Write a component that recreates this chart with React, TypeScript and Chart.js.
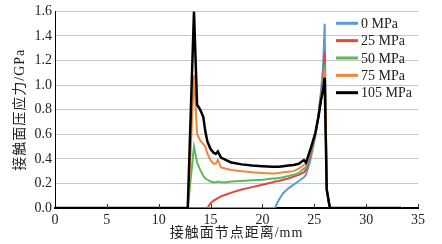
import React, { useEffect, useRef } from "react";
import { Chart, registerables } from "chart.js";

Chart.register(...registerables);

const distance = [0, 12.8, 13.1, 13.4, 13.7, 14.0, 14.3, 14.5, 14.7, 15.0, 15.3, 15.5, 15.7, 16.0, 16.5, 17, 18, 19, 20, 21, 21.2, 21.6, 22, 22.5, 23, 23.5, 24, 24.2, 24.6, 25.1, 25.4, 25.65, 25.85, 26.0, 26.2, 26.5, 33.4];

const p0 = [0, 0, 0, 0, 0, 0, 0, 0, 0, 0, 0, 0, 0, 0, 0, 0, 0, 0, 0, 0, 0, 0.07, 0.12, 0.16, 0.19, 0.22, 0.25, 0.27, 0.38, 0.58, 0.76, 0.95, 1.15, 1.5, 0.15, 0, 0];
const p25 = [0, 0, 0, 0, 0, 0, 0, 0, 0, 0.04, 0.06, 0.07, 0.08, 0.095, 0.11, 0.125, 0.15, 0.17, 0.19, 0.21, 0.215, 0.22, 0.23, 0.24, 0.255, 0.27, 0.29, 0.31, 0.42, 0.6, 0.75, 0.92, 1.05, 1.27, 0.15, 0, 0];
const p50 = [0, 0, 0.25, 0.5, 0.37, 0.31, 0.26, 0.24, 0.23, 0.215, 0.21, 0.21, 0.215, 0.21, 0.21, 0.215, 0.22, 0.225, 0.23, 0.24, 0.24, 0.245, 0.25, 0.26, 0.27, 0.285, 0.32, 0.33, 0.44, 0.6, 0.74, 0.9, 1.0, 1.17, 0.15, 0, 0];
const p75 = [0, 0, 0.5, 1.08, 0.6, 0.55, 0.52, 0.5, 0.44, 0.39, 0.36, 0.36, 0.39, 0.33, 0.32, 0.31, 0.3, 0.29, 0.285, 0.28, 0.28, 0.285, 0.29, 0.295, 0.3, 0.32, 0.35, 0.36, 0.45, 0.6, 0.74, 0.88, 0.98, 1.12, 0.15, 0, 0];
const p105 = [0, 0, 0.8, 1.6, 0.84, 0.8, 0.74, 0.62, 0.54, 0.48, 0.45, 0.44, 0.46, 0.41, 0.39, 0.37, 0.355, 0.345, 0.34, 0.335, 0.335, 0.335, 0.34, 0.345, 0.35, 0.36, 0.39, 0.37, 0.47, 0.61, 0.74, 0.88, 0.96, 1.06, 0.15, 0, 0];

const seriesLabels = ["0 MPa", "25 MPa", "50 MPa", "75 MPa", "105 MPa"];
const seriesColors = ["#5B9BD5", "#D9493F", "#5DB85A", "#F0863A", "#000000"];
const seriesValues = [p0, p25, p50, p75, p105];

const xTitle = "接触面节点距离/mm";
const yTitle = "接触面压应力/GPa";
const xTicks = [0, 5, 10, 15, 20, 25, 30, 35];

const FONT = "'Liberation Serif', 'Noto Sans CJK SC', serif";

const decorPlugin = {
  id: "decor",
  afterDraw(chart: any) {
    const ctx = chart.ctx as CanvasRenderingContext2D;
    const area = chart.chartArea;
    const xs = chart.scales.x;
    ctx.save();
    // inward tick marks on x axis
    ctx.strokeStyle = "#333";
    ctx.lineWidth = 1;
    for (const t of xTicks) {
      if (t === 0) continue;
      const px = Math.round(xs.getPixelForValue(t)) + 0.5;
      ctx.beginPath();
      ctx.moveTo(px, area.bottom);
      ctx.lineTo(px, area.bottom - 4);
      ctx.stroke();
    }
    // legend
    ctx.font = `14px ${FONT}`;
    ctx.textBaseline = "middle";
    ctx.textAlign = "left";
    seriesLabels.forEach((lab, i) => {
      const y = 23.3 + i * 17.35;
      ctx.strokeStyle = seriesColors[i];
      ctx.lineWidth = 3;
      ctx.beginPath();
      ctx.moveTo(336, y);
      ctx.lineTo(358, y);
      ctx.stroke();
      ctx.fillStyle = "#222";
      ctx.fillText(lab, 361, y + 1);
    });
    // axis titles
    ctx.fillStyle = "#222";
    ctx.font = `14px ${FONT}`;
    (ctx as any).letterSpacing = "1px";
    ctx.textAlign = "center";
    ctx.fillText(xTitle, (area.left + area.right) / 2, 233);
    ctx.translate(20.5, (area.top + area.bottom) / 2);
    ctx.rotate(-Math.PI / 2);
    ctx.fillText(yTitle, 0, 0);
    ctx.restore();
  },
};

export default function App() {
  const ref = useRef<HTMLCanvasElement | null>(null);
  useEffect(() => {
    document.body.style.margin = "0";
    const canvas = ref.current!;
    const chart = new Chart(canvas, {
      type: "line",
      data: {
        labels: distance,
        datasets: seriesValues.map((vals, i) => ({
          label: seriesLabels[i],
          data: vals.map((v, j) => ({ x: distance[j], y: v })),
          borderColor: seriesColors[i],
          backgroundColor: seriesColors[i],
          borderWidth: i === 4 ? 2.5 : 2,
          pointRadius: 0,
          tension: 0,
          fill: false,
          order: 5 - i,
        })),
      },
      options: {
        animation: false,
        responsive: false,
        devicePixelRatio: 1,
        layout: { padding: { left: 0, right: 24, top: 11, bottom: 0 } },
        plugins: { legend: { display: false }, tooltip: { enabled: false } },
        scales: {
          x: {
            type: "linear",
            min: 0,
            max: 35,
            afterFit: (s: any) => { s.height = 36; },
            afterBuildTicks: (s: any) => { s.ticks = xTicks.map((v) => ({ value: v })); },
            grid: { display: false, drawTicks: false },
            border: { display: true, color: "#000", width: 2 },
            ticks: { padding: 4, color: "#222", font: { family: FONT, size: 14 }, maxRotation: 0, autoSkip: false },
          },
          y: {
            type: "linear",
            min: 0,
            max: 1.6,
            afterFit: (s: any) => { s.width = 55; },
            grid: { color: "#C6C6C6", lineWidth: 1, drawTicks: false },
            border: { display: true, color: "#000", width: 1 },
            ticks: {
              stepSize: 0.2,
              padding: 3,
              color: "#222",
              font: { family: FONT, size: 14 },
              callback: (v: any) => Number(v).toFixed(1),
            },
          },
        },
      },
      plugins: [decorPlugin],
    } as any);
    return () => chart.destroy();
  }, []);
  return (
    <div style={{ width: 442, height: 244, background: "#fff" }}>
      <canvas ref={ref} width={442} height={244} />
    </div>
  );
}
